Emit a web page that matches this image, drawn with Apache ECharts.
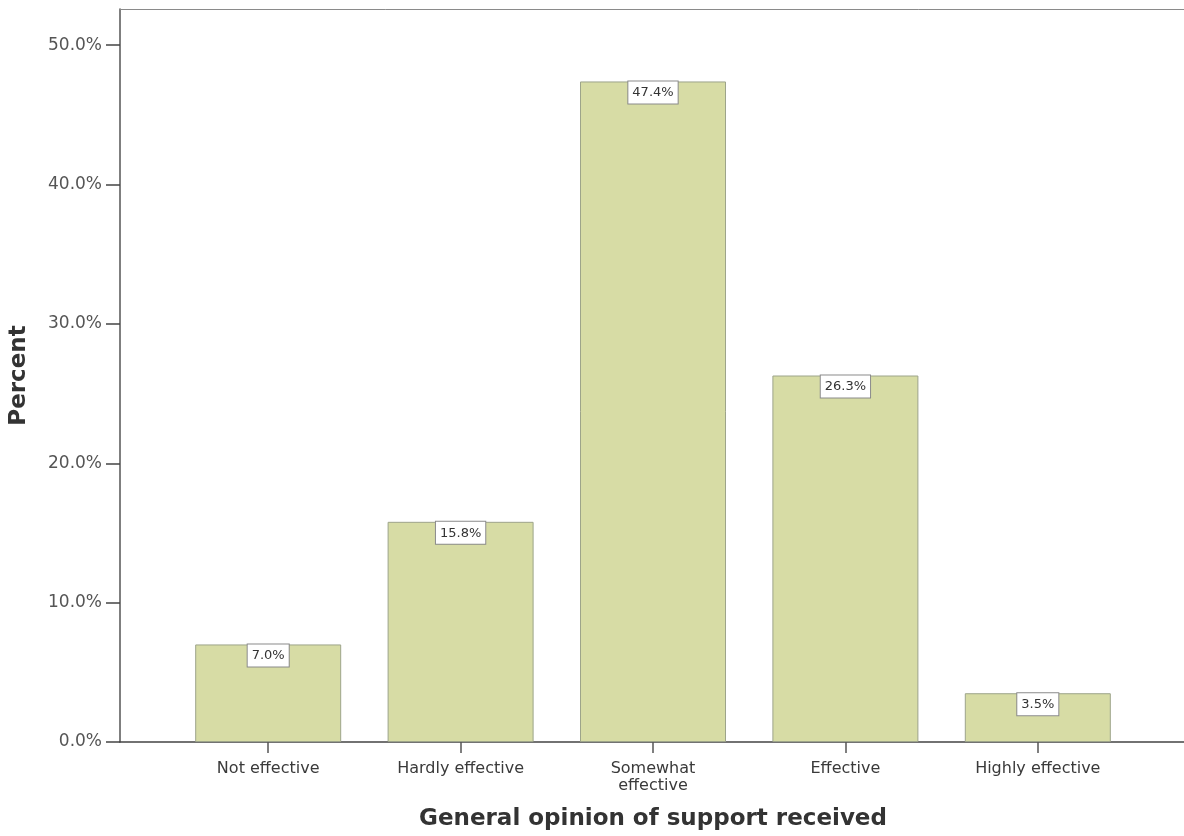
<!DOCTYPE html>
<html>
<head>
<meta charset="utf-8">
<script src="https://cdn.jsdelivr.net/npm/echarts@6/dist/echarts.min.js"></script>
<style>html,body{margin:0;padding:0;background:#fff}#c{width:1184px;height:836px}</style>
</head>
<body>
<div id="c"></div>
<script>
var categories = ['Not effective', 'Hardly effective', 'Somewhat\neffective', 'Effective', 'Highly effective'];
var percents = [7.0, 15.8, 47.4, 26.3, 3.5];
var yTicks = [0, 10, 20, 30, 40, 50];
var yMax = 52.6;

var chart = echarts.init(document.getElementById('c'), null, {renderer: 'canvas'});
var fam = '"DejaVu Sans", "Liberation Sans", Arial, sans-serif';
chart.setOption({
  animation: false,
  backgroundColor: '#ffffff',
  grid: [
    {left: 172, right: 50, top: 9, bottom: 94, show: false},
    {left: 117, right: 0, top: 9, bottom: 94, show: false}
  ],
  xAxis: [
    {
      type: 'category', gridIndex: 0, data: categories,
      axisLine: {show: false},
      axisTick: {show: true, alignWithLabel: true, length: 11, lineStyle: {color: '#555', width: 1.5}},
      axisLabel: {margin: 18, color: '#3a3a3a', fontFamily: fam, fontSize: 16, lineHeight: 17, interval: 0},
      name: 'General opinion of support received', nameLocation: 'middle', nameGap: 66,
      nameTextStyle: {fontFamily: fam, fontSize: 23, fontWeight: 'bold', color: '#333'}
    },
    {
      type: 'value', gridIndex: 1, min: 0, max: 1, position: 'bottom',
      axisLine: {show: true, lineStyle: {color: '#444', width: 1.5}},
      axisTick: {show: false}, axisLabel: {show: false}, splitLine: {show: false}
    },
    {
      type: 'value', gridIndex: 1, min: 0, max: 1, position: 'top',
      axisLine: {show: true, lineStyle: {color: '#8a8a8a', width: 1}},
      axisTick: {show: false}, axisLabel: {show: false}, splitLine: {show: false}
    }
  ],
  yAxis: [
    {
      type: 'value', gridIndex: 0, min: 0, max: yMax, show: false, splitLine: {show: false}
    },
    {
      type: 'value', gridIndex: 1, min: 0, max: yMax,
      axisLine: {show: true, lineStyle: {color: '#555', width: 1.5}},
      axisTick: {show: true, length: 14, customValues: yTicks, lineStyle: {color: '#444', width: 1.5}},
      axisLabel: {margin: 18, customValues: yTicks, color: '#555', fontFamily: fam, fontSize: 17,
        formatter: function (v) { return v.toFixed(1) + '%'; }},
      splitLine: {show: false},
      name: 'Percent', nameLocation: 'middle', nameGap: 89,
      nameTextStyle: {fontFamily: fam, fontSize: 23, fontWeight: 'bold', color: '#333'}
    }
  ],
  series: [{
    type: 'bar', xAxisIndex: 0, yAxisIndex: 0,
    data: percents, barWidth: 146,
    itemStyle: {color: '#d7dca5', borderColor: '#9da48a', borderWidth: 1},
    label: {
      show: true, position: 'insideTop', distance: 0,
      formatter: function (p) { return p.value.toFixed(1) + '%'; },
      fontFamily: fam, fontSize: 13, color: '#333',
      backgroundColor: '#ffffff', borderColor: '#8a8a8a', borderWidth: 1,
      padding: [5, 4, 4, 4]
    }
  }]
});
</script>
</body>
</html>
